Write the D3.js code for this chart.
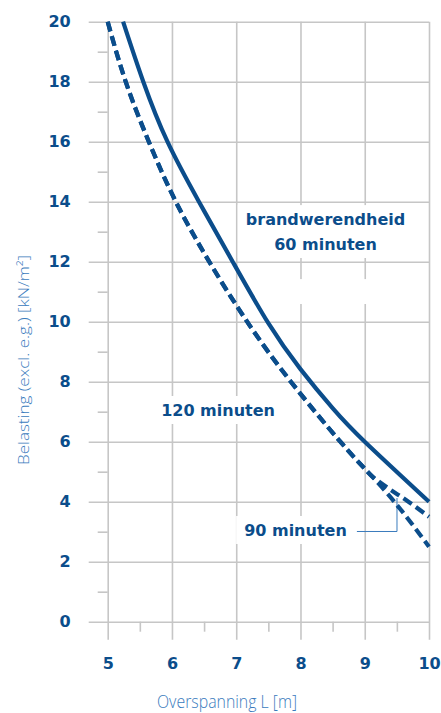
<!DOCTYPE html>
<html>
<head>
<meta charset="utf-8">
<script src="https://cdn.jsdelivr.net/npm/d3@7/dist/d3.min.js"></script>
<style>
  html, body { margin: 0; padding: 0; background: #ffffff; }
  svg { display: block; }
</style>
</head>
<body>
<svg id="chart" width="441" height="713"></svg>
<script>
// ---- data ----
const xMajorTicks = [5, 6, 7, 8, 9, 10];
const xMinorTicks = [5.5, 6.5, 7.5, 8.5, 9.5];
const yMajorTicks = [0, 2, 4, 6, 8, 10, 12, 14, 16, 18, 20];
const yMinorTicks = [1, 3, 5, 7, 9, 11, 13, 15, 17, 19];

// 60 minuten (solid)
const span60 = [5.24, 5.554, 5.93, 6.42, 6.945, 7.50, 8.0, 8.5, 9.0, 10.0];
const load60 = [20, 18, 16, 14, 12, 9.95, 8.42, 7.12, 6, 4];
// 120 minuten (dashed)
const span120 = [5.0, 5.28, 5.64, 6.06, 6.58, 7.17, 7.85, 8.62, 9.0, 9.46, 10.0];
const load120 = [20, 18, 16, 14, 12, 10, 8, 6, 5.1, 4.0, 2.5];
// 90 minuten (dashed)
const span90 = [5.0, 5.28, 5.64, 6.06, 6.58, 7.17, 7.85, 8.62, 9.0, 9.14, 9.4, 9.68, 10.0];
const load90 = [20, 18, 16, 14, 12, 10, 8, 6, 5.1, 4.8, 4.4, 4.0, 3.5];

const xTitle = "Overspanning L [m]";
const yTitle = "Belasting (excl. e.g.) [kN/m²]";
const labelHead = "brandwerendheid";
const label60 = "60 minuten";
const label120 = "120 minuten";
const label90 = "90 minuten";

// ---- layout ----
const svg = d3.select("#chart");
const x = d3.scaleLinear().domain([5, 10]).range([107.7, 429]);
const y = d3.scaleLinear().domain([0, 20]).range([621.7, 21.7]);

const gridColor = "#c6c6c6";
const darkBlue = "#0b4d8b";
const lightBlue = "#3a7bbd";
const boldFont = "'DejaVu Sans', Verdana, sans-serif";
const lightFont = "'Open Sans', 'Noto Sans', sans-serif";

const plotW = x(10) - x(5);
const plotH = y(0) - y(20);

function styleAxis(g) {
  g.select(".domain").remove();
  g.selectAll(".tick line").attr("stroke", gridColor).attr("stroke-width", 1.6);
  g.selectAll(".tick text")
    .attr("fill", darkBlue)
    .attr("font-family", boldFont)
    .attr("font-weight", "bold")
    .attr("font-size", 16);
}

// horizontal grid + y labels
svg.append("g")
  .attr("transform", `translate(${x(5) - 19},0)`)
  .call(d3.axisLeft(y).tickValues(yMajorTicks).tickSize(-(plotW + 19)).tickPadding(18).tickFormat(d3.format("d")))
  .call(styleAxis);

// minor y ticks
svg.append("g")
  .attr("transform", `translate(${x(5)},0)`)
  .call(d3.axisLeft(y).tickValues(yMinorTicks).tickSize(10).tickFormat(""))
  .call(styleAxis);

// vertical grid + x labels
svg.append("g")
  .attr("transform", `translate(0,${y(0) + 18})`)
  .call(d3.axisBottom(x).tickValues(xMajorTicks).tickSize(-(plotH + 18)).tickPadding(18).tickFormat(d3.format("d")))
  .call(styleAxis);

// minor x ticks
svg.append("g")
  .attr("transform", `translate(0,${y(0)})`)
  .call(d3.axisBottom(x).tickValues(xMinorTicks).tickSize(10).tickFormat(""))
  .call(styleAxis);

// ---- annotation labels with white backgrounds ----
const annot = svg.append("g");
const bgLayer = annot.append("g");
const txtLayer = annot.append("g");

function addLabel(lines, cx, baselines) {
  const g = txtLayer.append("g");
  lines.forEach((t, i) => {
    g.append("text")
      .attr("x", x(cx))
      .attr("y", y(baselines[i]))
      .attr("text-anchor", "middle")
      .attr("fill", darkBlue)
      .attr("font-family", boldFont)
      .attr("font-weight", "bold")
      .attr("font-size", 16)
      .text(t);
  });
  const bb = g.node().getBBox();
  bgLayer.append("rect")
    .attr("x", bb.x - 8).attr("y", bb.y - 5)
    .attr("width", bb.width + 16).attr("height", bb.height + 9)
    .attr("fill", "#ffffff");
  return bb;
}

const bb60 = addLabel([labelHead, label60], 8.389, [13.22, 12.39]);
// extra blank band below the 60-min label (as in source)
bgLayer.append("rect")
  .attr("x", bb60.x - 8).attr("y", y(11.42))
  .attr("width", bb60.width + 16).attr("height", y(10.59) - y(11.42))
  .attr("fill", "#ffffff");
addLabel([label120], 6.717, [6.857]);
addLabel([label90], 7.922, [2.857]);

// leader line for 90 minuten
const leader = [[8.878, 3.007], [9.502, 3.007], [9.502, 4.123]];
svg.append("path")
  .attr("d", d3.line().x(d => x(d[0])).y(d => y(d[1]))(leader))
  .attr("fill", "none")
  .attr("stroke", lightBlue)
  .attr("stroke-width", 1);

// ---- curves ----
const line = d3.line().x(d => x(d[0])).y(d => y(d[1])).curve(d3.curveNatural);
const series = [
  { s: span120, v: load120, dash: "10,5" },
  { s: span90, v: load90, dash: "10,5" },
  { s: span60, v: load60, dash: null }
];
series.forEach(se => {
  const pts = se.s.map((d, i) => [d, se.v[i]]);
  svg.append("path")
    .attr("d", line(pts))
    .attr("fill", "none")
    .attr("stroke", darkBlue)
    .attr("stroke-width", 4.2)
    .attr("stroke-dasharray", se.dash);
});

// ---- axis titles ----
svg.append("text")
  .attr("x", 227)
  .attr("y", 708)
  .attr("text-anchor", "middle")
  .attr("fill", lightBlue)
  .attr("font-family", lightFont)
  .attr("font-weight", 300)
  .attr("font-size", 18.5)
  .attr("textLength", 140)
  .attr("lengthAdjust", "spacingAndGlyphs")
  .text(xTitle);

svg.append("text")
  .attr("transform", "translate(28.5,360) rotate(-90)")
  .attr("text-anchor", "middle")
  .attr("fill", lightBlue)
  .attr("font-family", lightFont)
  .attr("font-weight", 300)
  .attr("font-size", 15)
  .attr("textLength", 210)
  .attr("lengthAdjust", "spacingAndGlyphs")
  .text(yTitle);
</script>
</body>
</html>
